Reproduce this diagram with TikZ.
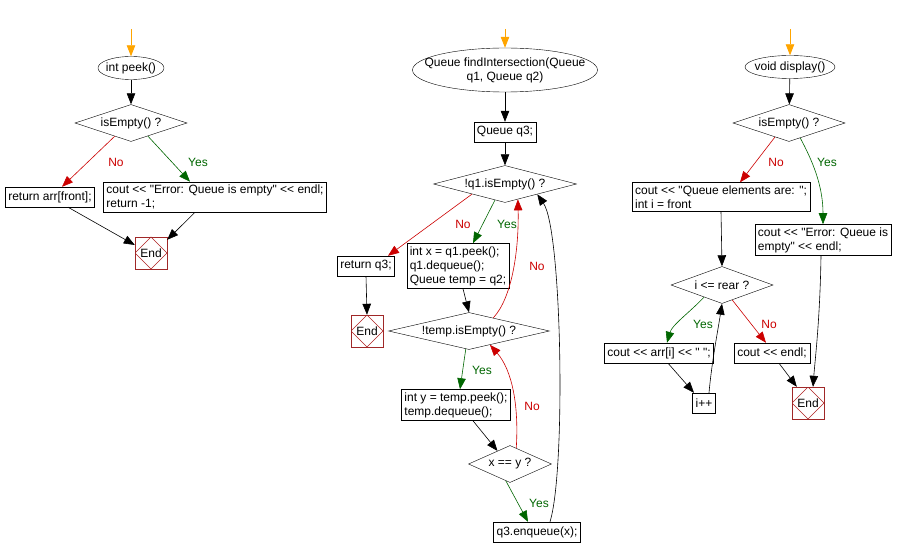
\documentclass[tikz,border=0pt]{standalone}
\usepackage{fontspec}
\newfontfamily\lsans{Liberation Sans}
\usetikzlibrary{shapes.geometric,arrows.meta,calc}
\definecolor{nored}{RGB}{204,0,0}
\definecolor{yesgreen}{RGB}{0,102,0}
\definecolor{startorange}{RGB}{255,165,0}
\definecolor{endred}{RGB}{160,40,40}
\tikzset{
  base/.style={font=\lsans\fontsize{12}{14}\selectfont},
  term/.style={base, draw, ellipse, inner sep=-30pt, minimum width=#1, minimum height=23pt},
  dec/.style={base, draw, diamond, aspect=4, inner sep=-3pt, minimum height=37pt},
  proc/.style={base, draw, rectangle, inner sep=3pt, minimum height=20pt, align=left},
  endbox/.style={base, draw=endred, rectangle, inner sep=0pt, minimum size=32pt,
    path picture={\draw[endred!85!red, line width=0.5pt] (path picture bounding box.north) -- (path picture bounding box.east) -- (path picture bounding box.south) -- (path picture bounding box.west) -- cycle;}},
  flow/.style={draw=black, line width=0.6pt, -{Triangle[length=11pt,width=8.5pt]}},
  startflow/.style={flow, draw=startorange, -{Triangle[length=11pt,width=8.5pt,fill=startorange]}, line width=0.8pt},
  noflow/.style={flow, draw=nored, -{Triangle[length=11pt,width=8.5pt,fill=nored]}},
  yesflow/.style={flow, draw=yesgreen, -{Triangle[length=11pt,width=8.5pt,fill=yesgreen]}},
  nolab/.style={base, text=nored, inner sep=0pt},
  yeslab/.style={base, text=yesgreen, inner sep=0pt},
}
\begin{document}
\begin{tikzpicture}[x=1pt, y=-1pt]
\useasboundingbox[fill=white] (0,0) rectangle (897,556);

% ---------- left: peek ----------
\coordinate (s1) at (131,29);
\node[term=66pt] (peek) at (131,68) {int peek()};
\node[dec, minimum width=112pt] (d1) at (131,123) {isEmpty() ?};
\node[proc] (r1) at (50,197) {return arr[front];};
\node[proc] (c1) at (215,197) {cout << "Error: Queue is empty" << endl;\\return -1;};
\node[endbox] (e1) at (151,253) {End};
\draw[startflow] (s1) -- (peek);
\draw[flow] (peek) -- (d1);
\draw[noflow] ($(d1.south)!0.29!(d1.west)$) -- ([xshift=12pt]r1.north);
\draw[yesflow] ($(d1.south)!0.3!(d1.east)$) -- ([xshift=-25pt]c1.north);
\draw[flow] ([xshift=18pt]r1.south) -- ([yshift=8pt]e1.west);
\draw[flow] ([xshift=-20pt]c1.south) -- ([yshift=-3pt]e1.north east);
\node[nolab] (l1) at (116,162) {No};
\node[yeslab] (l2) at (198,162) {Yes};

% ---------- middle: findIntersection ----------
\coordinate (s2) at (505,29);
\node[term=185pt, minimum height=44pt, align=center] (fi) at (505,70) {Queue findIntersection(Queue\\q1, Queue q2)};
\node[proc] (q3) at (505,132) {Queue q3;};
\node[dec, minimum width=143pt] (d2) at (505,184) {!q1.isEmpty() ?};
\node[proc] (rq3) at (366,266) {return q3;};
\node[proc] (b1) at (458,266) {int x = q1.peek();\\q1.dequeue();\\Queue temp = q2;};
\node[endbox] (e2) at (367,331) {End};
\node[dec, minimum width=161pt] (d3) at (469,331) {!temp.isEmpty() ?};
\node[proc] (b2) at (456,405) {int y = temp.peek();\\temp.dequeue();};
\node[dec, minimum width=83pt] (d4) at (510,464) {x == y ?};
\node[proc] (en) at (537,532) {q3.enqueue(x);};
\draw[startflow] (s2) -- (fi);
\draw[flow] (fi) -- (q3);
\draw[flow] (q3) -- (d2);
\draw[noflow] ($(d2.south)!0.46!(d2.west)$) -- ([xshift=22pt]rq3.north);
\draw[yesflow] ($(d2.south)!0.14!(d2.west)$) -- ([xshift=15pt]b1.north);
\draw[flow] (rq3.south) -- (e2.north);
\draw[flow] ([xshift=5pt]b1.south) -- (d3.north);
\draw[noflow] ($(d3.north)!0.3!(d3.east)$) .. controls (512,298) and (519,250) .. ($(d2.south)!0.18!(d2.east)$);
\draw[yesflow] ($(d3.south)!0.04!(d3.west)$) -- ([xshift=4pt]b2.north);
\draw[flow] ([xshift=17pt]b2.south) -- ($(d4.north)!0.3!(d4.west)$);
\draw[noflow] ($(d4.north)!0.15!(d4.east)$) .. controls (519,405) and (512,370) .. ($(d3.south)!0.26!(d3.east)$);
\draw[yesflow] ($(d4.south)!0.1!(d4.west)$) -- ([xshift=-9pt]en.north);
\draw[flow] ([xshift=13pt]en.north) .. controls (566,470) and (562,230) .. ($(d2.south)!0.45!(d2.east)$);
\node[nolab] (l3) at (463,224) {No};
\node[yeslab] (l4) at (507,224) {Yes};
\node[nolab] (l5) at (537,266) {No};
\node[yeslab] (l6) at (482,370) {Yes};
\node[nolab] (l7) at (532,406) {No};
\node[yeslab] (l8) at (539,503) {Yes};

% ---------- right: display ----------
\coordinate (s3) at (790,29);
\node[term=90pt] (disp) at (790,67) {void display()};
\node[dec, minimum width=112pt] (d5) at (789,123) {isEmpty() ?};
\node[proc] (c2) at (721,197) {cout << "Queue elements are: ";\\int i = front};
\node[proc] (c3) at (823,240) {cout << "Error: Queue is\\empty" << endl;};
\node[dec, minimum width=102pt] (d6) at (722,285) {i <= rear ?};
\node[proc] (b3) at (659,353) {cout << arr[i] << " ";};
\node[proc] (b4) at (772,353) {cout << endl;};
\node[proc] (ip) at (704,403) {i++};
\node[endbox] (e3) at (808,403) {End};
\draw[startflow] (s3) -- (disp);
\draw[flow] (disp) -- (d5);
\draw[noflow] ($(d5.south)!0.25!(d5.west)$) -- ([xshift=19pt]c2.north);
\draw[yesflow] ($(d5.south)!0.2!(d5.east)$) .. controls (812,160) and (823,185) .. (c3.north);
\draw[flow] (c2.south) -- (d6.north);
\draw[yesflow] ($(d6.south)!0.35!(d6.west)$) .. controls (690,312) and (672,325) .. ([xshift=8pt]b3.north);
\draw[noflow] ($(d6.south)!0.2!(d6.east)$) -- ([xshift=-6pt]b4.north);
\draw[flow] ([xshift=9pt]b3.south) -- ([xshift=-10pt]ip.north);
\draw[flow] ([xshift=5pt]ip.north) .. controls (712,360) and (718,330) .. (d6.south);
\draw[flow] ([xshift=7pt]b4.south) -- ([xshift=5pt]e3.north west);
\draw[flow] ([xshift=-2pt]c3.south) .. controls (820,320) and (815,360) .. ([xshift=5pt]e3.north);
\node[nolab] (l9) at (776,162) {No};
\node[yeslab] (l10) at (827,162) {Yes};
\node[yeslab] (l11) at (703,324) {Yes};
\node[nolab] (l12) at (769,324) {No};
\end{tikzpicture}
\end{document}
